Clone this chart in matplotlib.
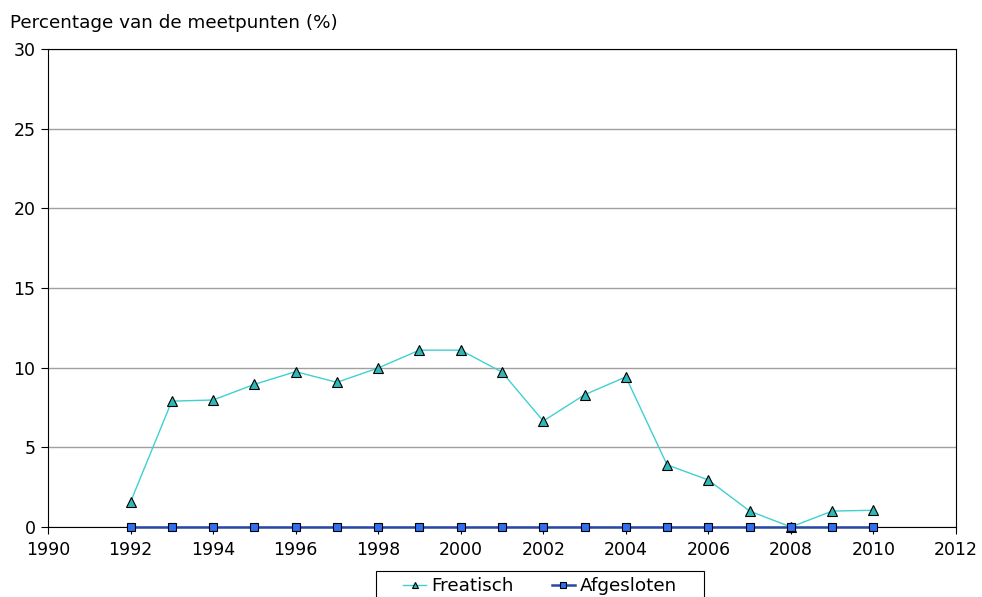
import matplotlib
matplotlib.use("Agg")
import matplotlib.pyplot as plt
from matplotlib.patches import Rectangle
from matplotlib.ticker import MultipleLocator

years = list(range(1992, 2011))
freatisch = [1.57, 7.9, 7.97, 8.95, 9.75, 9.08, 9.98, 11.1, 11.1, 9.72,
             6.65, 8.3, 9.42, 3.9, 2.95, 1.0, 0.0, 1.0, 1.05]
afgesloten = [0.0] * len(years)

plt.rcParams['font.family'] = ['DejaVu Sans']

W, H = 982, 597
fig = plt.figure(figsize=(W / 100, H / 100), dpi=100)
ax = fig.add_axes([48 / W, 1 - 527 / H, 908 / W, 478 / H])

ax.set_xlim(1990, 2012)
ax.set_ylim(0, 30)
ax.xaxis.set_major_locator(MultipleLocator(2))
ax.yaxis.set_major_locator(MultipleLocator(5))
ax.yaxis.grid(True, color='#a0a0a0', linewidth=1.0)
ax.set_axisbelow(True)

for s in ax.spines.values():
    s.set_color('black')
    s.set_linewidth(0.8)

ax.tick_params(axis='both', labelsize=12.5, direction='out', length=5, width=0.8,
               colors='black')
ax.tick_params(axis='y', pad=4)
ax.tick_params(axis='x', pad=5)

ax.plot(years, freatisch, color='#40d0d0', linewidth=1.0, marker='^',
        markersize=6.5, markerfacecolor='#30b8b8', markeredgecolor='black',
        markeredgewidth=0.8, label='Freatisch', zorder=3, clip_on=False)
ax.plot(years, afgesloten, color='#2848a8', linewidth=1.8, marker='s',
        markersize=6, markerfacecolor='#3070f0', markeredgecolor='black',
        markeredgewidth=0.8, label='Afgesloten', zorder=4, clip_on=False)

fig.text(10 / W, 1 - 23 / H, 'Percentage van de meetpunten (%)',
         fontsize=13.2, va='center', ha='left')

# legend entries without frame, boxed by a separate rectangle running off the bottom edge
leg = fig.legend(loc='upper center', bbox_to_anchor=(540 / W, 1 - 577 / H),
                 ncol=2, fontsize=13.2, frameon=False,
                 handlelength=1.25, columnspacing=2.1,
                 borderpad=0.0, handletextpad=0.25, markerscale=0.75,
                 borderaxespad=0)
fig.patches.append(Rectangle((376 / W, -0.05), 328 / W, (1 - 571 / H) + 0.05,
                             transform=fig.transFigure, fill=False,
                             edgecolor='black', linewidth=0.8))

fig.savefig('out.png', dpi=100)
